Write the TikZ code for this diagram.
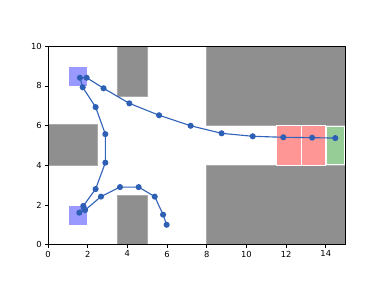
\documentclass[tikz,border=0pt]{standalone}
\usepackage{fontspec}
\setmainfont{DejaVu Sans}
\begin{document}
\begin{tikzpicture}[x=14.88pt,y=14.88pt,
  obst/.style={fill={rgb,255:red,143;green,143;blue,143},draw={rgb,255:red,170;green,170;blue,170},line width=0.4pt},
  startbox/.style={fill={rgb,255:red,153;green,153;blue,255},draw=white,line width=0.4pt},
  redbox/.style={fill={rgb,255:red,255;green,150;blue,150},draw=white,line width=0.7pt},
  greenbox/.style={fill={rgb,255:red,150;green,204;blue,150},draw=white,line width=0.8pt},
  pathline/.style={draw={rgb,255:red,50;green,100;blue,185},line width=0.85pt},
  dot/.style={circle,fill={rgb,255:red,45;green,95;blue,180},inner sep=0pt,minimum size=4.6pt},
  ticklab/.style={font=\fontsize{6.25pt}{7pt}\selectfont,inner sep=0pt}]
\useasboundingbox (-2.419,-2.188) rectangle (16.935,12.329);
% obstacles
\fill[obst] (3.5,7.5) rectangle (5,10);
\fill[obst] (0,4) rectangle (2.5,6.05);
\fill[obst] (3.5,0) rectangle (5,2.5);
\fill[obst] (8,6) rectangle (15,10);
\fill[obst] (8,0) rectangle (15,4);
% starts and goals
\fill[startbox] (1,8) rectangle (2,9);
\fill[startbox] (1,1) rectangle (2,2);
\fill[redbox] (11.5,4) rectangle (12.75,6);
\fill[redbox] (12.75,4) rectangle (14,6);
\fill[greenbox] (14.05,4.05) rectangle (14.95,5.95);
% points
\coordinate (u0) at (1.61,8.41);
\coordinate (a1) at (1.95,8.41);
\coordinate (a2) at (2.8,7.88);
\coordinate (a3) at (4.1,7.12);
\coordinate (a4) at (5.6,6.52);
\coordinate (a5) at (7.19,5.99);
\coordinate (a6) at (8.75,5.61);
\coordinate (a7) at (10.32,5.46);
\coordinate (a8) at (11.86,5.41);
\coordinate (a9) at (13.31,5.39);
\coordinate (a10) at (14.48,5.37);
\coordinate (b1) at (1.75,7.93);
\coordinate (b2) at (2.4,6.93);
\coordinate (b3) at (2.89,5.57);
\coordinate (b4) at (2.89,4.13);
\coordinate (b5) at (2.4,2.8);
\coordinate (b6) at (1.78,1.95);
\coordinate (l0) at (1.58,1.61);
\coordinate (c1) at (1.87,1.74);
\coordinate (c2) at (2.67,2.42);
\coordinate (c3) at (3.63,2.9);
\coordinate (c4) at (4.57,2.9);
\coordinate (c5) at (5.38,2.42);
\coordinate (c6) at (5.8,1.51);
\coordinate (c7) at (5.98,1.0);
\draw[pathline] (u0) -- (a1) -- (a2) -- (a3) -- (a4) -- (a5) -- (a6) -- (a7) -- (a8) -- (a9) -- (a10);
\draw[pathline] (u0) -- (b1) -- (b2) -- (b3) -- (b4) -- (b5) -- (b6) -- (l0);
\draw[pathline] (l0) -- (c1) -- (c2) -- (c3) -- (c4) -- (c5) -- (c6) -- (c7);
\foreach \p in {u0,a1,a2,a3,a4,a5,a6,a7,a8,a9,a10,b1,b2,b3,b4,b5,b6,l0,c1,c2,c3,c4,c5,c6,c7}
  \node[dot] at (\p) {};
% axes frame
\draw[line width=0.5pt] (0,0) rectangle (15,10);
\foreach \x in {0,2,...,14} {
  \draw[line width=0.5pt] (\x,0) -- (\x,-0.146);
  \node[ticklab,anchor=north] at (\x,-0.30) {\x};
}
\foreach \y in {0,2,...,10} {
  \draw[line width=0.5pt] (0,\y) -- (-0.146,\y);
  \node[ticklab,anchor=east] at (-0.30,\y) {\y};
}
\end{tikzpicture}
\end{document}
